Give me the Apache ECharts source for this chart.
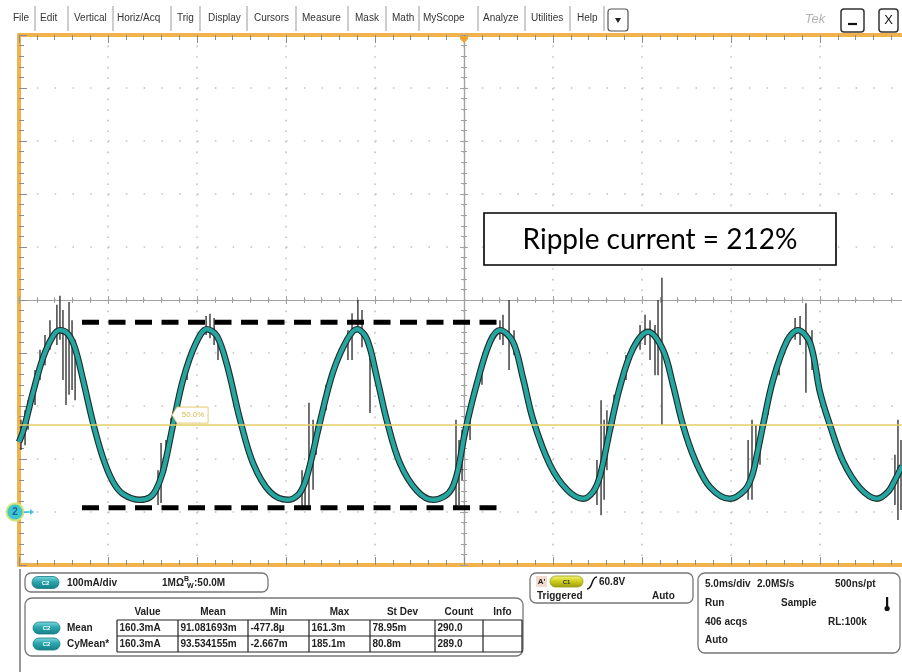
<!DOCTYPE html>
<html>
<head>
<meta charset="utf-8">
<script src="https://cdn.jsdelivr.net/npm/echarts@6.0.0/dist/echarts.min.js"></script>
<style>
  html, body { margin: 0; padding: 0; background: #ffffff; }
  #scope { width: 902px; height: 672px; }
</style>
</head>
<body>
<div id="scope"></div>
<script>
// Channel 2 current trace (time in ms relative to trigger, current in mA)
const timeMs = [-25.00,-24.72,-24.21,-23.65,-23.09,-22.70,-22.25,-21.85,-21.40,-20.84,-20.28,-19.72,-19.16,-18.20,
  -17.64,-17.30,-16.97,-16.69,-16.35,-15.79,-15.11,-14.44,-13.88,-13.31,-12.58,-11.85,-10.90,-9.89,
  -9.33,-8.99,-8.65,-8.09,-7.36,-6.57,-6.01,-5.45,-4.89,-4.33,-3.60,-2.64,-1.74,
  -1.07,-0.67,-0.34,0.06,0.73,1.46,2.02,2.75,3.31,3.88,4.83,5.79,6.69,
  7.25,7.64,8.20,8.76,9.49,10.34,11.18,11.74,12.30,12.98,13.82,14.94,
  15.79,16.18,16.46,16.80,17.36,18.15,18.76,19.44,20.00,20.56,21.29,22.25,23.20,
  23.82,24.21,24.61];
const currentMa = [132,158,226,291,332,343,336,309,249,168,102,57,34,23,
  28,42,70,108,164,249,315,345,332,277,174,92,38,23,
  32,51,89,170,264,325,345,326,253,172,92,40,23,
  30,45,79,151,243,321,343,321,253,174,89,42,25,
  38,68,155,236,308,340,306,240,164,98,47,25,
  42,68,108,164,249,323,343,319,226,164,96,45,25,
  38,60,87];

// Raw-acquisition glitches riding on the trace: time, lowest and highest current
const spikeTime = [-24.89,-24.66,-24.49,-24.10,-23.82,-23.54,-23.26,-22.87,-22.70,-22.53,-22.36,-22.19,-22.02,-21.85,
  -17.19,-17.02,-16.74,-16.46,-16.07,-15.56,-14.49,-14.27,-14.04,-13.82,-9.10,-8.93,-8.71,-8.48,-8.31,-7.75,
  -6.52,-6.29,-5.96,-5.73,-5.28,-0.45,-0.28,-0.11,0.34,1.01,
  2.02,2.19,2.53,2.81,7.47,7.70,7.87,8.03,8.43,9.10,
  9.89,10.17,10.45,10.73,10.90,11.12,15.96,16.18,16.40,16.63,17.08,17.70,
  18.60,18.88,19.21,19.55,24.21,24.38,24.55];
const spikeLow = [117,126,155,202,249,277,306,315,325,249,202,221,230,211,
  13,17,79,126,189,249,334,328,315,287,4,4,4,42,108,192,
  287,287,343,311,187,4,13,60,136,240,
  325,315,268,296,13,-6,23,79,164,249,
  306,315,287,258,258,164,23,23,79,89,183,258,
  325,315,225,268,13,-15,4];
const spikeHigh = [174,192,211,268,306,334,362,391,408,381,343,396,362,325,
  79,130,136,177,226,287,370,374,366,334,79,70,206,174,164,240,
  343,375,400,381,311,174,136,155,211,287,
  362,372,400,343,98,211,174,192,221,296,
  353,372,362,353,400,442,136,174,164,164,230,296,
  366,370,394,343,108,174,136];

// Peak / valley reference markers used for the ripple estimate
const rippleSpanMs = [-21.46, 1.85];
const ripplePeakMa = 358;
const rippleValleyMa = 8;
const rippleText = 'Ripple current = 212%';

// Trigger level cursor of channel 1
const triggerLevelMa = 164;
const triggerLevelText = '50.0%';

// Menu bar
const menuItems = ['File','Edit','Vertical','Horiz/Acq','Trig','Display','Cursors','Measure','Mask','Math','MyScope','Analyze','Utilities','Help'];

// Measurement table
const measHeaders = ['Value','Mean','Min','Max','St Dev','Count','Info'];
const measRowNames = ['Mean','CyMean*'];
const measMean = ['160.3mA','91.081693m','-477.8\u00b5','161.3m','78.95m','290.0',''];
const measCyMean = ['160.3mA','93.534155m','-2.667m','185.1m','80.8m','289.0',''];

// Readouts
const vertReadout = ['100mA/div', '1M\u03a9', ':50.0M'];
const trigReadout = ['60.8V', 'Triggered', 'Auto'];
const horizReadout = [['5.0ms/div','2.0MS/s','500ns/pt'], ['Run','Sample'], ['406 acqs','RL:100k'], ['Auto']];

// ---------------------------------------------------------------
const chart = echarts.init(document.getElementById('scope'), null, { renderer: 'canvas' });

const ORANGE = '#efb24c';
const TICK = '#8c8c8c';
const DOT = '#c4c4c4';
const TEAL = '#25a6a1';
const FONT = '"Liberation Sans", Arial, sans-serif';

const trace = timeMs.map((t, i) => [t, currentMa[i]]);
const spikes = spikeTime.map((t, i) => [t, spikeLow[i], spikeHigh[i]]);

function frameAxis(extra) {
  return Object.assign({
    type: 'value',
    axisLabel: { show: false },
    axisLine: { onZero: false, lineStyle: { color: ORANGE, width: 4 } },
    axisTick: { inside: true, length: 8, lineStyle: { color: TICK, width: 1 } },
    minorTick: { show: true, splitNumber: 5, length: 5, lineStyle: { color: TICK, width: 1 } },
    splitLine: { show: false }
  }, extra);
}
function centerAxis(extra, inside) {
  return Object.assign({
    type: 'value',
    axisLabel: { show: false },
    axisLine: { onZero: false, lineStyle: { color: '#a2a2a2', width: 1.2 } },
    axisTick: { inside: inside, length: 4, lineStyle: { color: '#a2a2a2', width: 1 } },
    minorTick: { show: true, splitNumber: 5, length: 3, lineStyle: { color: '#a2a2a2', width: 1 } },
    splitLine: { show: false }
  }, extra);
}

const X = { min: -25, max: 25, interval: 5 };
const Y = { min: -100, max: 900, interval: 100 };

const option = {
  animation: false,
  backgroundColor: '#ffffff',
  grid: { left: 19, top: 35, width: 890, height: 530, outerBoundsMode: 'none', containLabel: false },
  xAxis: [
    frameAxis(Object.assign({ position: 'bottom',
      splitLine: { show: true, lineStyle: { color: DOT, width: 1.6, type: [1.6, 9.0] } } }, X)),
    frameAxis(Object.assign({ position: 'top' }, X)),
    centerAxis(Object.assign({ position: 'bottom', offset: -265 }, X), true),
    centerAxis(Object.assign({ position: 'bottom', offset: -265 }, X), false)
  ],
  yAxis: [
    frameAxis(Object.assign({ position: 'left',
      splitLine: { show: true, lineStyle: { color: DOT, width: 1.6, type: [1.6, 16.2] } } }, Y)),
    centerAxis(Object.assign({ position: 'left', offset: -445 }, Y), true),
    centerAxis(Object.assign({ position: 'left', offset: -445 }, Y), false)
  ],
  series: [
    {
      name: 'raw', type: 'line', data: trace, smooth: 0.35, symbol: 'none', z: 2,
      lineStyle: { color: '#1f2e2d', width: 6.5 },
      markLine: {
        silent: true, symbol: 'none', label: { show: false },
        lineStyle: { color: '#e4cf68', width: 1.5, type: 'solid' },
        data: [{ yAxis: triggerLevelMa }]
      }
    },
    {
      name: 'glitch', type: 'custom', data: spikes, z: 3, clip: true,
      encode: { x: 0, y: [1, 2] },
      renderItem: function (params, api) {
        const a = api.coord([api.value(0), api.value(1)]);
        const b = api.coord([api.value(0), api.value(2)]);
        return { type: 'line', shape: { x1: a[0], y1: a[1], x2: b[0], y2: b[1] },
                 style: { stroke: '#262626', lineWidth: 1.3 } };
      }
    },
    {
      name: 'avg', type: 'line', data: trace, smooth: 0.35, symbol: 'none', z: 4,
      lineStyle: { color: TEAL, width: 4.2 }
    },
    {
      name: 'peak', type: 'line', symbol: 'none', z: 6,
      data: [[rippleSpanMs[0], ripplePeakMa], [rippleSpanMs[1], ripplePeakMa]],
      lineStyle: { color: '#000', width: 5, type: [17, 9.5] }
    },
    {
      name: 'valley', type: 'line', symbol: 'none', z: 6,
      data: [[rippleSpanMs[0], rippleValleyMa], [rippleSpanMs[1], rippleValleyMa]],
      lineStyle: { color: '#000', width: 5, type: [17, 9.5] }
    }
  ]
};
chart.setOption(option);

// ---------------- decorations around the graticule ----------------
const g = [];
function txt(x, y, text, font, fill, align, z) {
  g.push({ type: 'text', x: x, y: y, z: z || 20,
    style: { text: text, font: font, fill: fill || '#222', textAlign: align || 'left', textVerticalAlign: 'middle' } });
}
function box(x, y, w, h, r, stroke, fill, lw) {
  g.push({ type: 'rect', z: 18, shape: { x: x, y: y, width: w, height: h, r: r },
    style: { fill: fill || '#fff', stroke: stroke || '#777', lineWidth: lw || 1.2 } });
}
function seg(x1, y1, x2, y2, stroke, lw, z) {
  g.push({ type: 'line', z: z || 19, shape: { x1: x1, y1: y1, x2: x2, y2: y2 },
    style: { stroke: stroke, lineWidth: lw } });
}
function badge(x, y, w, h, label, c0, c1, c2, tc) {
  g.push({ type: 'rect', z: 20, shape: { x: x, y: y, width: w, height: h, r: h / 2 },
    style: { fill: new echarts.graphic.LinearGradient(0, 0, 0, 1, [
      { offset: 0, color: c0 }, { offset: 0.45, color: c1 }, { offset: 1, color: c2 }]),
      stroke: c2, lineWidth: 0.8 } });
  txt(x + w / 2, y + h / 2 + 0.5, label, 'bold 6px ' + FONT, tc, 'center', 21);
}

// menu bar
const menuX = [13, 40, 74, 117, 177, 208, 254, 302, 355, 392, 423, 483, 531, 577];
const sepX = [35, 68, 113, 171, 200, 247, 296, 348, 386, 419, 478, 525, 570, 604];
menuItems.forEach((m, i) => txt(menuX[i], 18, m, '10px ' + FONT, '#333'));
sepX.forEach(x => seg(x, 6, x, 31, '#9a9a9a', 1));
box(608, 9, 20, 22, 3, '#555', '#fff', 1.2);
g.push({ type: 'polygon', z: 20, shape: { points: [[615, 18], [621, 18], [618, 23]] }, style: { fill: '#222' } });
txt(815, 19, 'Tek', 'italic 13px ' + FONT, '#b4b4b4', 'center');
box(841, 9, 23, 23, 3, '#333', '#fff', 1.5);
seg(848, 24, 857, 24, '#111', 2.2, 20);
box(879, 9, 19, 23, 3, '#333', '#fff', 1.5);
txt(888.5, 20.5, 'X', '13px ' + FONT, '#111', 'center');

// ripple annotation
box(484, 213, 352, 52, 0, '#000', '#fff', 1.6);
txt(660, 240, rippleText, '28px Lato, "Open Sans", sans-serif', '#000', 'center');

// bottom panel outline
seg(20, 569, 20, 672, '#555', 1.2);

// vertical readout
box(25, 573, 243, 19, 6, '#777', '#fff', 1.3);
badge(32, 576.5, 27, 12, 'C2', '#7fdbe0', '#2aa6ad', '#157e86', '#ffffff');
const BF = 'bold 10px ' + FONT;
txt(67, 583, vertReadout[0], BF);
txt(162, 583, vertReadout[1], BF);
txt(184, 579, 'B', 'bold 7px ' + FONT);
txt(187, 586, 'W', 'bold 7px ' + FONT);
txt(194, 583, vertReadout[2], BF);

// measurement table
box(25, 598, 498, 58, 7, '#777', '#fff', 1.3);
const colX = [117, 178, 248, 309, 370, 435, 483, 522];
measHeaders.forEach((h, i) => txt((colX[i] + colX[i + 1]) / 2, 612, h, BF, '#222', 'center'));
seg(117, 620, 522, 620, '#222', 1.2);
seg(117, 636, 522, 636, '#222', 1.2);
seg(117, 652, 522, 652, '#222', 1.2);
colX.forEach(x => seg(x, 620, x, 652, '#222', 1.2));
[measMean, measCyMean].forEach((row, r) => {
  const cy = 628 + r * 16;
  badge(33, cy - 6, 27, 12, 'C2', '#7fdbe0', '#2aa6ad', '#157e86', '#ffffff');
  txt(67, cy, measRowNames[r], BF);
  row.forEach((v, i) => txt(colX[i] + 2.5, cy, v, BF));
});

// trigger readout
box(530, 573, 163, 30, 6, '#777', '#fff', 1.3);
g.push({ type: 'rect', z: 19, shape: { x: 536, y: 576, width: 11, height: 11 }, style: { fill: '#f3dccd' } });
txt(541.5, 581.5, "A'", 'bold 8px ' + FONT, '#222', 'center');
badge(550, 576, 33, 11, 'C1', '#f4f48a', '#d2d21e', '#9a9a10', '#333');
g.push({ type: 'bezierCurve', z: 20,
  shape: { x1: 587, y1: 589, x2: 597, y2: 577, cpx1: 593, cpy1: 589, cpx2: 591, cpy2: 577 },
  style: { stroke: '#111', lineWidth: 1.5, fill: null } });
txt(599, 582, trigReadout[0], BF);
txt(537, 596, trigReadout[1], BF);
txt(652, 596, trigReadout[2], BF);

// horizontal readout
box(698, 573, 202, 80, 7, '#777', '#fff', 1.3);
const hRowY = [584, 603, 622, 640];
const hColX = [[705, 757, 835], [705, 781], [705, 828], [705]];
horizReadout.forEach((row, r) => row.forEach((t, c) => txt(hColX[r][c], hRowY[r], t, BF)));
g.push({ type: 'rect', z: 20, shape: { x: 886, y: 597, width: 2.2, height: 10 }, style: { fill: '#111' } });
g.push({ type: 'circle', z: 20, shape: { cx: 887.1, cy: 608.5, r: 2.6 }, style: { fill: '#111' } });

// markers tied to the axes: ground reference, trigger position, trigger level tag
const gnd = chart.convertToPixel({ xAxisIndex: 0, yAxisIndex: 0 }, [-25, 0]);
g.push({ type: 'circle', z: 22, shape: { cx: gnd[0] - 4, cy: gnd[1], r: 8.5 },
  style: { fill: '#3fc6cc', stroke: '#d2e276', lineWidth: 1.8 } });
txt(gnd[0] - 4, gnd[1] + 0.5, '2', 'bold 10px ' + FONT, '#1b5fa0', 'center', 24);
seg(gnd[0] + 5, gnd[1], gnd[0] + 12, gnd[1], '#40c4d8', 1.6, 22);
g.push({ type: 'polygon', z: 22, shape: { points: [[gnd[0] + 11, gnd[1] - 3], [gnd[0] + 15, gnd[1]], [gnd[0] + 11, gnd[1] + 3]] },
  style: { fill: '#40c4d8' } });

const trg = chart.convertToPixel({ xAxisIndex: 0, yAxisIndex: 0 }, [0, 900]);
g.push({ type: 'polygon', z: 22, shape: { points: [[trg[0] - 4, trg[1] + 1], [trg[0] + 4, trg[1] + 1], [trg[0] + 4, trg[1] + 4], [trg[0], trg[1] + 8], [trg[0] - 4, trg[1] + 4]] },
  style: { fill: '#f0a630' } });

const lvl = chart.convertToPixel({ xAxisIndex: 0, yAxisIndex: 0 }, [-16.4, triggerLevelMa]);
g.push({ type: 'polygon', z: 22,
  shape: { points: [[lvl[0], lvl[1] - 10], [lvl[0] + 5, lvl[1] - 18], [lvl[0] + 36, lvl[1] - 18], [lvl[0] + 36, lvl[1] - 2], [lvl[0] + 5, lvl[1] - 2]] },
  style: { fill: '#fff', stroke: '#e6cc6e', lineWidth: 1 } });
txt(lvl[0] + 21, lvl[1] - 10, triggerLevelText, '8px ' + FONT, '#d6b84a', 'center', 24);

chart.setOption({ graphic: { elements: g } });
</script>
</body>
</html>
